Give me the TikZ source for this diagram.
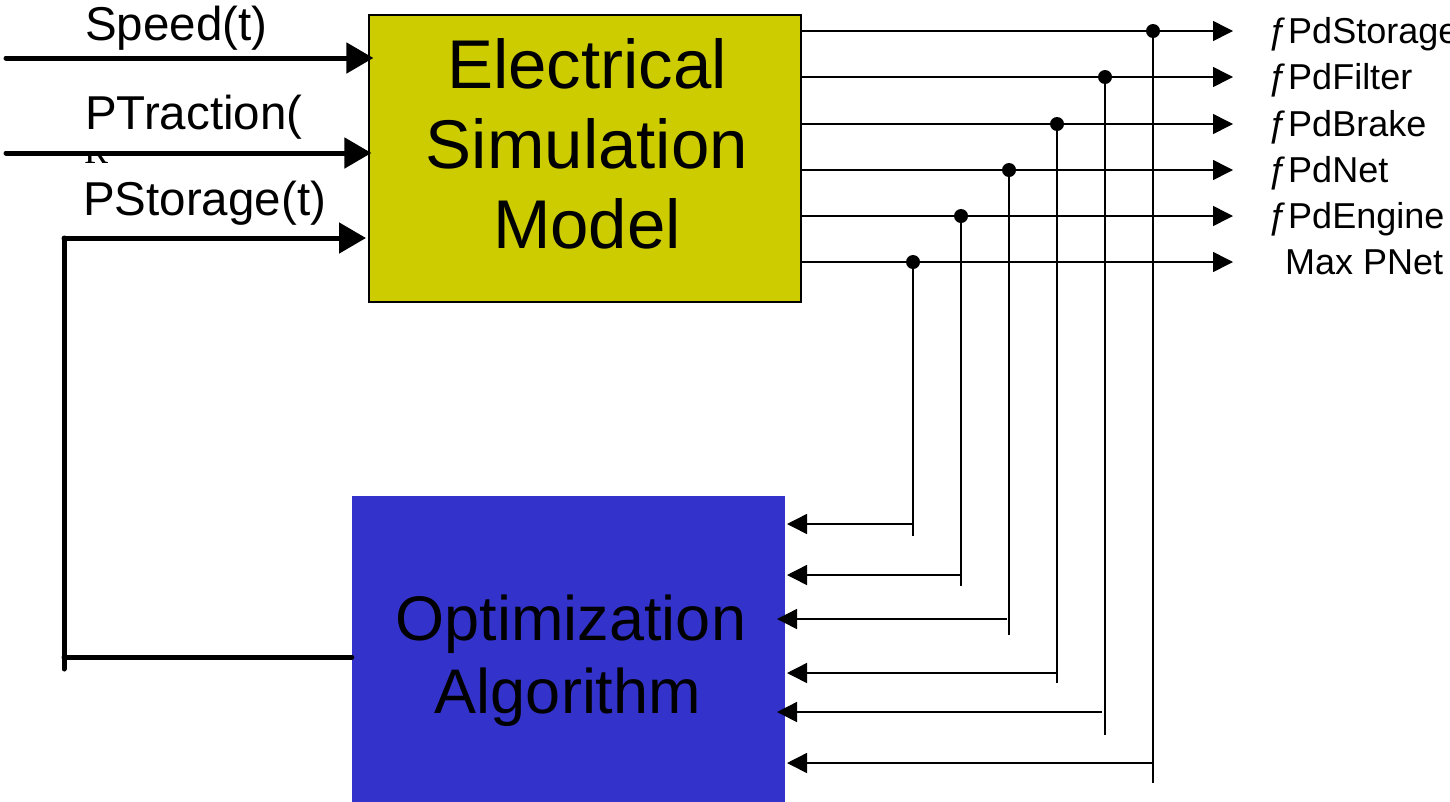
\documentclass[tikz,border=0pt]{standalone}
\usepackage{fontspec}
\setmainfont{Liberation Sans}
\newfontfamily\serifR{Liberation Serif}
\usetikzlibrary{arrows.meta}
\definecolor{esmyellow}{RGB}{204,204,0}
\definecolor{optblue}{RGB}{51,51,204}
\begin{document}
\begin{tikzpicture}[x=1pt,y=-1pt,
  thickarrow/.style={line width=5pt, line cap=round, -{Triangle[length=27pt,width=30pt]}},
  thickline/.style={line width=5pt, line cap=round, line join=round},
  thinarrow/.style={line width=1.5pt, -{Triangle[length=20pt,width=20pt]}},
  thinline/.style={line width=1.5pt},
  junction/.style={circle, fill=black, inner sep=0pt, minimum size=14pt},
  esmlabel/.style={inner sep=0pt, anchor=base, font=\fontsize{69}{80}\selectfont},
  optlabel/.style={inner sep=0pt, anchor=base, font=\fontsize{63}{73}\selectfont},
  inlabel/.style={inner sep=0pt, anchor=base west, font=\fontsize{47.5}{52}\selectfont},
  outlabel/.style={inner sep=0pt, anchor=base west, font=\fontsize{36}{40}\selectfont},
]
\useasboundingbox (0,0) rectangle (1450,801);

% boxes
\node[draw=black, line width=1.2pt, fill=esmyellow, minimum width=432pt, minimum height=287pt, inner sep=0pt] (esm) at (585,158.5) {};
\node[fill=optblue, minimum width=433pt, minimum height=320pt, inner sep=0pt] (opt) at (568.5,656) {};

\node[esmlabel] (e1) at (587,88) {Electrical};
\node[esmlabel] (e2) at (587,168) {Simulation};
\node[esmlabel] (e3) at (587,248) {Model};
\node[optlabel] (a1) at (571,640) {Optimization};
\node[optlabel] (a2) at (568,713) {Algorithm};

% input labels
\node[inlabel] (lspeed) at (85,40) {Speed(t)};
\node[inlabel] (ltrac) at (85,129) {PTraction(};
\node[inlabel] (lstor) at (83,215) {PStorage(t)};
\begin{scope}
  \clip (78,156) rectangle (118,168);
  \node[inner sep=0pt, anchor=base west, font=\serifR\fontsize{36}{40}\selectfont] (frag) at (84,163) {R};
\end{scope}

% input arrows
\coordinate (sIn) at (6,58);
\coordinate (tIn) at (6,153);
\draw[thickarrow] (sIn) -- ([xshift=5pt]esm.west |- sIn);
\draw[thickarrow] (tIn) -- ([xshift=3pt]esm.west |- tIn);

% feedback PStorage
\coordinate (fbTop) at (64,238);
\coordinate (fbCorner) at (64,657);
\coordinate (fbEnd) at (64,669);
\draw[thickline] (opt.west |- fbCorner) -- (fbCorner);
\draw[thickline] (fbEnd) -- (fbTop);
\draw[thickarrow] (fbTop) -- (366,238);

% outputs
\foreach \i/\yy/\xx/\bot/\ay/\tip/\hend in {
   1/31/1153/783/763/787/1153,
   2/77/1105/735/712/777/1102,
   3/124/1057/683/673/787/1057,
   4/170/1009/635/619/777/1007,
   5/216/961/586/575/787/961,
   6/262/913/536/524/787/913}{
  \coordinate (o\i) at (801,\yy);
  \coordinate (t\i) at (1233,\yy);
  \node[junction] (j\i) at (\xx,\yy) {};
  \coordinate (b\i) at (\xx,\bot);
  \coordinate (h\i) at (\hend,\ay);
  \coordinate (r\i) at (\tip,\ay);
  \draw[thinarrow] (o\i) -- (t\i);
  \draw[thinline] (j\i.center) -- (b\i);
  \draw[thinarrow] (h\i) -- (r\i);
}

% output labels
\node[outlabel] (l1) at (1268,43) {ƒPdStorage};
\node[outlabel] (l2) at (1268,89) {ƒPdFilter};
\node[outlabel] (l3) at (1268,136) {ƒPdBrake};
\node[outlabel] (l4) at (1268,182) {ƒPdNet};
\node[outlabel] (l5) at (1268,228) {ƒPdEngine};
\node[outlabel] (l6) at (1285,274) {Max PNet};
\end{tikzpicture}
\end{document}
